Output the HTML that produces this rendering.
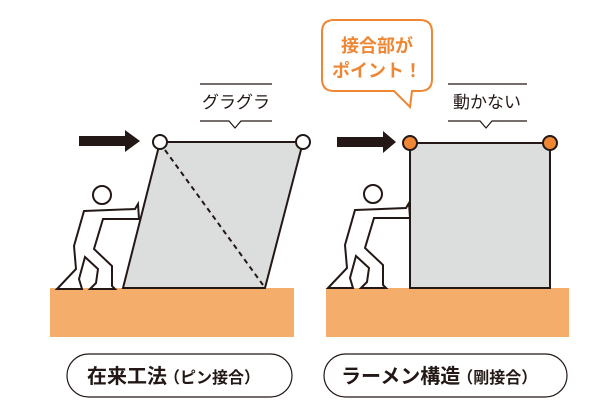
<!DOCTYPE html>
<html><head><meta charset="utf-8"><style>
body{margin:0;background:#fff;width:600px;height:400px;overflow:hidden}
svg{display:block}
text{font-family:"Liberation Sans","Noto Sans CJK JP",sans-serif}
</style></head><body>
<svg width="600" height="400" viewBox="0 0 600 400">
<rect x="50" y="288" width="244" height="49" fill="#f5ad6b"/>
<rect x="326" y="288" width="243" height="49" fill="#f5ad6b"/>
<polygon points="160,142 303,142 265,288 123,288" fill="#dcdddd" stroke="#231815" stroke-width="2"/>
<line x1="165" y1="150" x2="263" y2="285" stroke="#231815" stroke-width="2" stroke-dasharray="5,4"/>
<circle cx="160" cy="142" r="7" fill="#fff" stroke="#231815" stroke-width="2"/>
<circle cx="303" cy="142" r="7" fill="#fff" stroke="#231815" stroke-width="2"/>
<rect x="410" y="143" width="140" height="145" fill="#dcdddd" stroke="#231815" stroke-width="2"/>
<circle cx="410" cy="143" r="7" fill="#ee8633" stroke="#231815" stroke-width="2"/>
<circle cx="550" cy="143" r="7" fill="#ee8633" stroke="#231815" stroke-width="2"/>
<polygon points="79,136 125,136 125,130 140,141 125,152 125,146 79,146" fill="#231815"/>
<polygon points="337,137 383,137 383,131 396,142 383,153 383,147 337,147" fill="#231815"/>
<g fill="#fff" stroke="#231815" stroke-width="2" stroke-linejoin="miter">
<circle cx="373" cy="194" r="9"/>
<polygon points="355,210 406,208 409,203 410,218 374,218 365,248 383,265 383,285 386,288 361,288 367,282 369,268 356,256 350,278 353,288 328,288 347,268 345,245"/>
<g transform="translate(-271,1)">
<circle cx="373" cy="194" r="9"/>
<polygon points="355,210 406,208 409,203 410,218 374,218 365,248 383,265 383,285 386,288 361,288 367,282 369,268 356,256 350,278 353,288 328,288 347,268 345,245"/>
</g>
</g>
<line x1="200" y1="84" x2="272" y2="84" stroke="#231815" stroke-width="1.2"/>
<polyline points="200,121 229,121 235,128 241,121 272,121" fill="none" stroke="#231815" stroke-width="1.2"/>
<text x="236" y="108" font-size="17" text-anchor="middle" fill="#231815">グラグラ</text>
<line x1="448" y1="84" x2="527" y2="84" stroke="#231815" stroke-width="1.2"/>
<polyline points="448,121 480,121 486,128 492,121 527,121" fill="none" stroke="#231815" stroke-width="1.2"/>
<text x="487" y="108" font-size="17" text-anchor="middle" fill="#231815">動かない</text>
<path d="M334,20 H420 Q432,20 432,32 V79 Q432,91 420,91 H412 L410,107 L394,91 H334 Q322,91 322,79 V32 Q322,20 334,20 Z" fill="#fff" stroke="#ee8633" stroke-width="2"/>
<text x="377" y="52" font-size="18" font-weight="bold" text-anchor="middle" fill="#ee8633">接合部が</text>
<text x="377" y="77" font-size="18" font-weight="bold" text-anchor="middle" fill="#ee8633">ポイント！</text>
<rect x="67" y="354" width="225" height="43" rx="21.5" fill="#fff" stroke="#231815" stroke-width="1.2"/>
<rect x="324" y="354" width="243" height="43" rx="21.5" fill="#fff" stroke="#231815" stroke-width="1.2"/>
<text x="87" y="383" font-size="20" font-weight="bold" fill="#231815">在来工法<tspan font-size="16" dx="-3">（ピン接合）</tspan></text>
<text x="341" y="383" font-size="20" font-weight="bold" fill="#231815">ラーメン構造<tspan font-size="16" dx="-3">（剛接合）</tspan></text>
</svg>
</body></html>
